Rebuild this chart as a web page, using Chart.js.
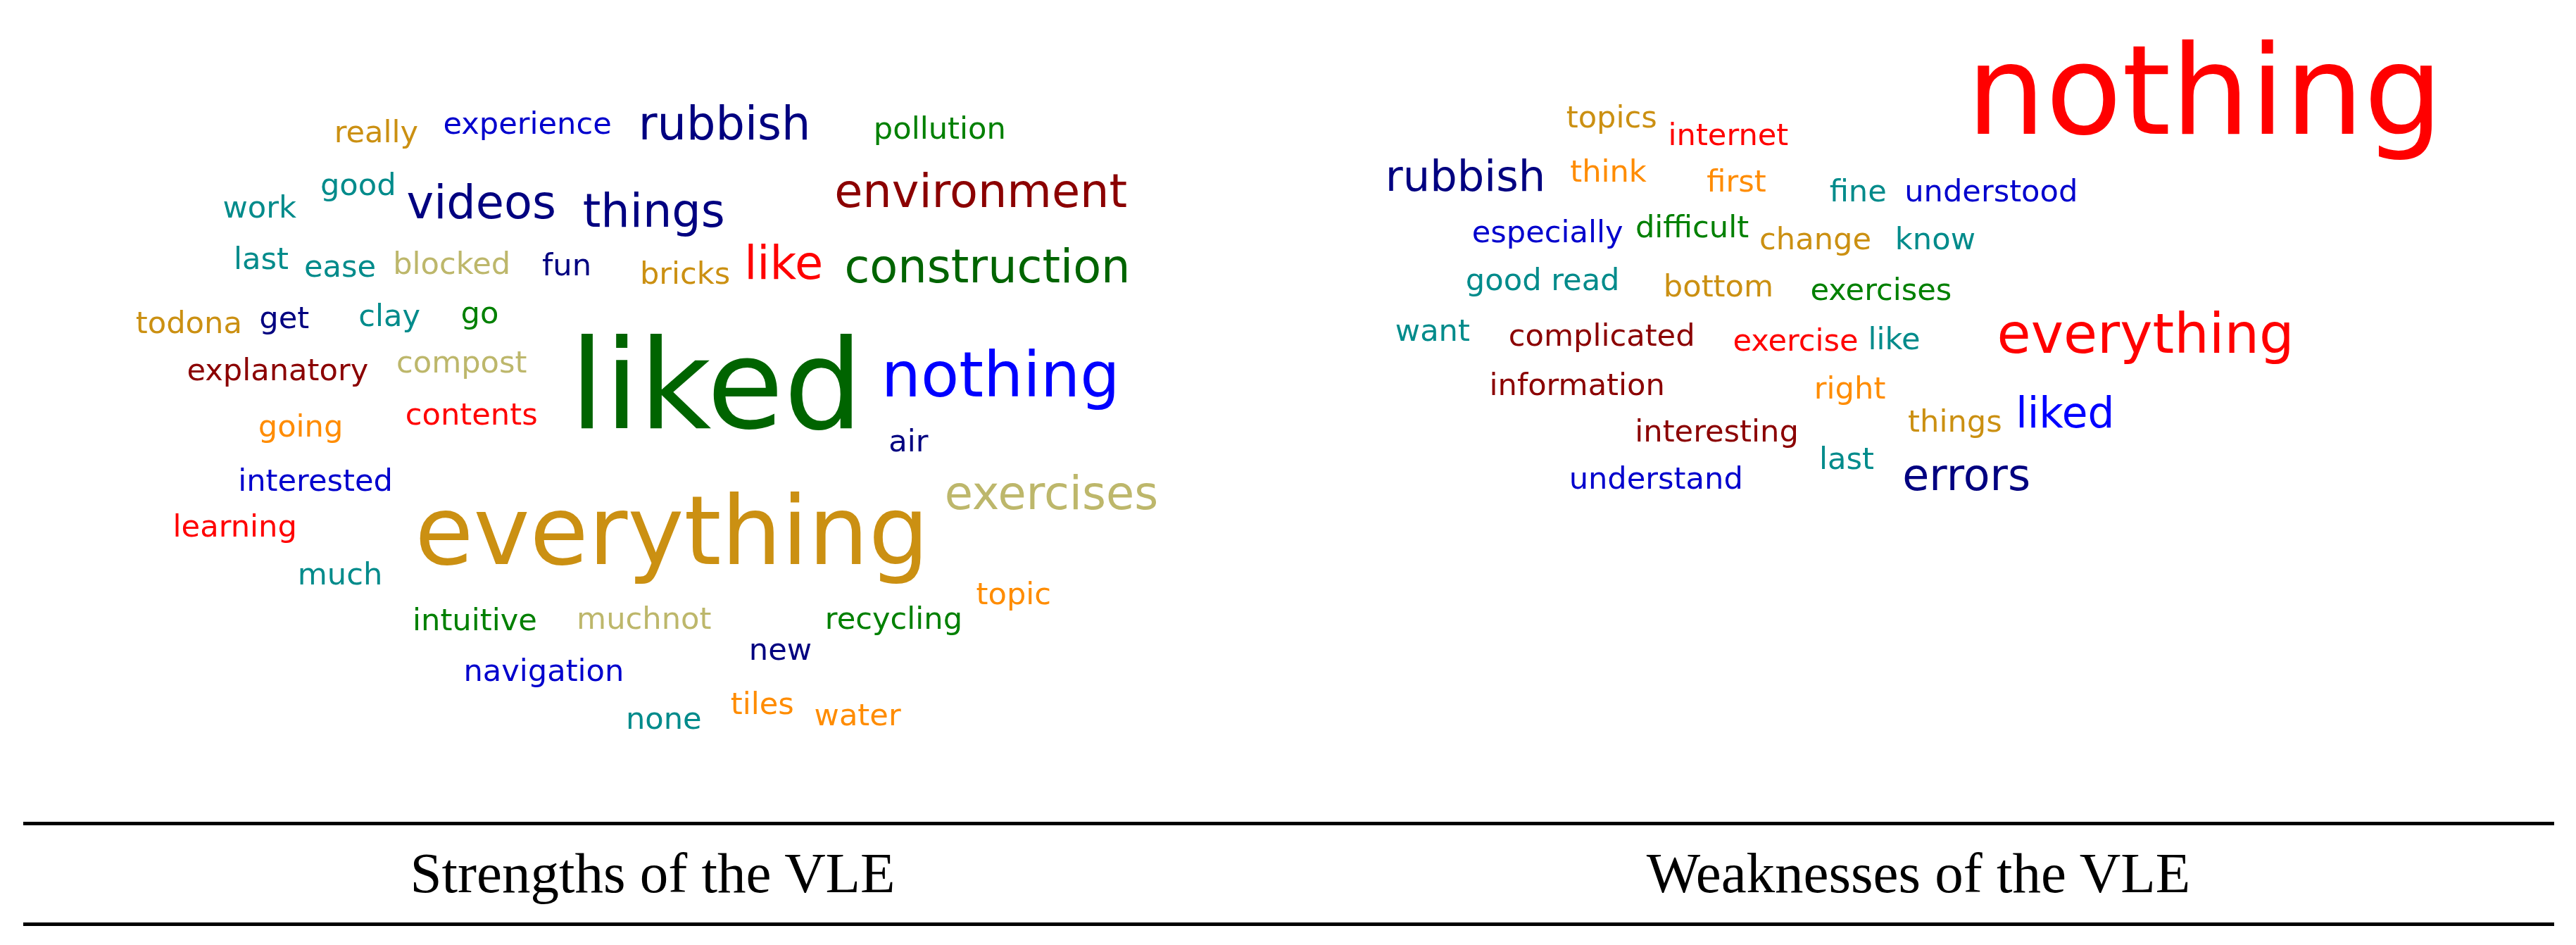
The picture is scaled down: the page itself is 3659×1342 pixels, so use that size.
<!DOCTYPE html>
<html>
<head>
<meta charset="utf-8">
<script src="https://cdn.jsdelivr.net/npm/chart.js@4/dist/chart.umd.min.js"></script>
<style>
  html, body { margin: 0; padding: 0; background: #fff; }
  #wrap { position: relative; width: 3659px; height: 1342px; }
  #cloud { position: absolute; left: 0; top: 0; }
  #table {
    position: absolute; left: 33px; top: 1167px; width: 3595px; height: 138px;
    border-top: 5px solid #000; border-bottom: 5px solid #000;
    font-family: "Liberation Serif", "DejaVu Serif", serif; font-size: 81px; color: #000;
  }
  .cap { position: absolute; top: 28px; transform: translateX(-50%); white-space: nowrap; line-height: 1; }
</style>
</head>
<body>
<div id="wrap">
  <canvas id="cloud" width="3659" height="1342"></canvas>
  <div id="table">
    <span class="cap" style="left:894px">Strengths of the VLE</span>
    <span class="cap" style="left:2692px">Weaknesses of the VLE</span>
  </div>
</div>
<script>
// Word cloud data, layout units (1568 x 575 board)
const NAVY = '#000080', BLUE = '#0000FF', MBLUE = '#0000CD', GREEN = '#008000', DGREEN = '#006400',
      DRED = '#8B0000', RED = '#FF0000', ORANGE = '#FF8C00', TEAL = '#008B8B', KHAKI = '#BDB76B', GOLD = '#CB9012';

// Strengths
const strengthWords = ['really', 'experience', 'rubbish', 'pollution', 'work', 'good', 'videos', 'things', 'environment',
  'last', 'ease', 'blocked', 'fun', 'bricks', 'like', 'construction', 'todona', 'get', 'clay', 'go',
  'explanatory', 'compost', 'liked', 'nothing', 'going', 'contents', 'air', 'interested', 'exercises', 'learning',
  'everything', 'much', 'topic', 'intuitive', 'muchnot', 'recycling', 'new', 'navigation', 'none', 'tiles', 'water'];
const strengthX = [229, 321, 441, 572, 158, 218, 293, 398, 597,
  159, 207, 275, 345, 417, 477, 601, 115, 173, 237, 292,
  169, 281, 436, 609, 183, 287, 553, 192, 640, 143,
  409, 207, 617, 289, 392, 544, 475, 331, 404, 464, 522];
const strengthY = [80, 75, 75, 78, 126, 112, 123, 128, 116,
  157, 162, 160, 161, 166, 160, 162, 196, 193, 192, 190,
  225, 220, 234, 228, 259, 252, 268, 292, 300, 320,
  323, 349, 361, 377, 376, 376, 395, 408, 437, 428, 435];
const strengthWeight = [18.5, 18.5, 28, 18.5, 18.5, 18.5, 28, 28, 28,
  18.5, 18.5, 18.5, 18.5, 18.5, 28, 28, 18.5, 18.5, 18.5, 18.5,
  18.5, 18.5, 76, 38, 18.5, 18.5, 18.5, 18.5, 28, 18.5,
  58, 18.5, 18.5, 18.5, 18.5, 18.5, 18.5, 18.5, 18.5, 18.5, 18.5];
const strengthColor = [GOLD, MBLUE, NAVY, GREEN, TEAL, TEAL, NAVY, NAVY, DRED,
  TEAL, TEAL, KHAKI, NAVY, GOLD, RED, DGREEN, GOLD, NAVY, TEAL, GREEN,
  DRED, KHAKI, DGREEN, BLUE, ORANGE, RED, NAVY, MBLUE, KHAKI, RED,
  GOLD, TEAL, ORANGE, GREEN, KHAKI, GREEN, NAVY, MBLUE, TEAL, ORANGE, ORANGE];

// Weaknesses
const weaknessWords = ['nothing', 'topics', 'internet', 'rubbish', 'think', 'first', 'fine', 'understood',
  'especially', 'difficult', 'change', 'know', 'good read', 'bottom', 'exercises', 'want', 'complicated',
  'exercise', 'like', 'everything', 'information', 'right', 'interesting', 'things', 'liked', 'last',
  'understand', 'errors'];
const weaknessX = [1342, 981, 1052, 892, 979, 1057, 1131, 1212,
  942, 1030, 1105, 1178, 939, 1046, 1145, 872, 975,
  1093, 1153, 1306, 960, 1126, 1045, 1190, 1257, 1124,
  1008, 1197];
const weaknessY = [55, 71, 82, 107, 104, 110, 116, 116,
  141, 138, 145, 145, 170, 174, 176, 201, 204,
  207, 206, 203, 234, 236, 262, 256, 251, 279,
  291, 289];
const weaknessWeight = [76, 18.5, 18.5, 26, 18.5, 18.5, 18.5, 18.5,
  18.5, 18.5, 18.5, 18.5, 18.5, 18.5, 18.5, 18.5, 18.5,
  18.5, 18.5, 33.5, 18.5, 18.5, 18.5, 18.5, 25.6, 18.5,
  18.5, 26.5];
const weaknessColor = [RED, GOLD, RED, NAVY, ORANGE, ORANGE, TEAL, MBLUE,
  MBLUE, GREEN, GOLD, TEAL, TEAL, GOLD, GREEN, TEAL, DRED,
  RED, TEAL, RED, DRED, ORANGE, DRED, GOLD, BLUE, TEAL,
  MBLUE, NAVY];

function toPoints(xs, ys) {
  return xs.map((x, i) => ({ x: x, y: ys[i] }));
}

// Draws each word centred on its point
const wordPlugin = {
  id: 'words',
  afterDatasetsDraw(chart) {
    const ctx = chart.ctx;
    const k = chart.chartArea.width / 1568;
    ctx.save();
    ctx.textAlign = 'center';
    ctx.textBaseline = 'middle';
    chart.data.datasets.forEach((ds, i) => {
      chart.getDatasetMeta(i).data.forEach((pt, j) => {
        const size = ds.weights[j] * k;
        ctx.font = size.toFixed(1) + 'px "DejaVu Sans", Verdana, sans-serif';
        ctx.fillStyle = ds.colors[j];
        // middle of the em box sits a bit above the visual centre of lowercase words
        ctx.fillText(ds.words[j], pt.x, pt.y + size * 0.09);
      });
    });
    ctx.restore();
  }
};

new Chart(document.getElementById('cloud'), {
  type: 'scatter',
  data: {
    datasets: [
      { label: 'Strengths', data: toPoints(strengthX, strengthY), words: strengthWords,
        weights: strengthWeight, colors: strengthColor, pointRadius: 0 },
      { label: 'Weaknesses', data: toPoints(weaknessX, weaknessY), words: weaknessWords,
        weights: weaknessWeight, colors: weaknessColor, pointRadius: 0 }
    ]
  },
  options: {
    responsive: false,
    animation: false,
    layout: { padding: 0 },
    plugins: { legend: { display: false }, tooltip: { enabled: false } },
    scales: {
      x: { type: 'linear', min: 0, max: 1568, display: false },
      y: { type: 'linear', min: 0, max: 575, reverse: true, display: false }
    }
  },
  plugins: [wordPlugin]
});
</script>
</body>
</html>
